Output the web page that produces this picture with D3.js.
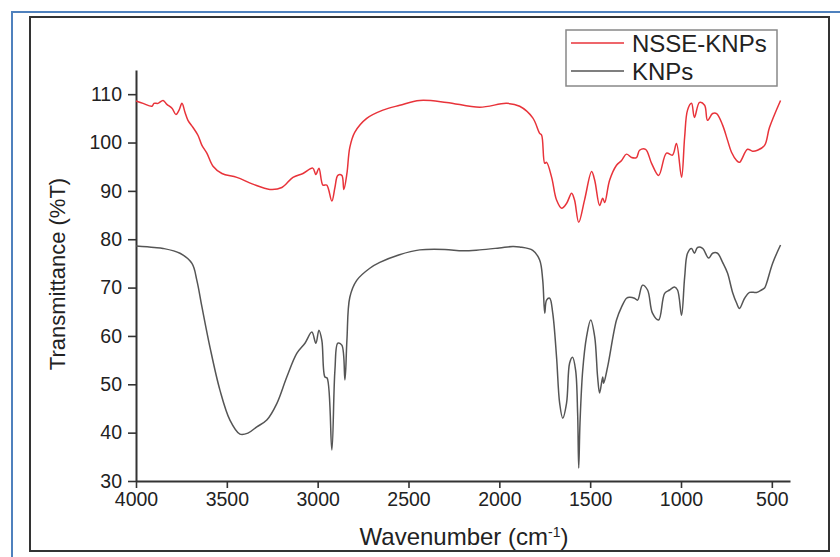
<!DOCTYPE html>
<html>
<head>
<meta charset="utf-8">
<script src="https://cdn.jsdelivr.net/npm/d3@7"></script>
<style>
    body { margin: 0; background: #fff; }
    svg { display: block; font-family: "Liberation Sans", Arial, sans-serif; }
</style>
</head>
<body>
<svg id="chart" width="840" height="557"></svg>
<script>
/* FTIR spectra */
const knpsWn = [4000, 3900, 3851, 3758, 3692, 3665, 3637, 3593, 3538, 3483, 3428, 3384, 3335, 3280, 3225, 3170, 3115, 3070, 3032, 3010, 2993, 2977, 2960, 2948, 2922, 2905, 2889, 2867, 2850, 2839, 2823, 2785, 2713, 2658, 2550, 2438, 2300, 2200, 2108, 2000, 1926, 1888, 1816, 1778, 1761, 1750, 1740, 1723, 1706, 1685, 1668, 1651, 1630, 1613, 1597, 1580, 1569, 1563, 1556, 1541, 1520, 1497, 1475, 1459, 1448, 1431, 1426, 1404, 1355, 1327, 1300, 1283, 1256, 1239, 1212, 1184, 1157, 1123, 1090, 1063, 1036, 1019, 997, 980, 964, 942, 926, 909, 881, 848, 826, 799, 771, 744, 716, 694, 678, 650, 623, 584, 557, 540, 529, 496, 452];
const knpsT = [78.6, 78.3, 78.1, 77.1, 75.0, 71.5, 66, 57.7, 48.8, 42.6, 39.7, 39.9, 41.2, 42.6, 46, 51.5, 56.4, 58.5, 60.8, 58.5, 61.2, 59.1, 51.5, 51.3, 36.4, 52.9, 58.5, 58.1, 50.9, 59.1, 68, 71.5, 74, 75.2, 76.8, 77.8, 77.9, 77.6, 77.8, 78.2, 78.5, 78.4, 77.7, 75.7, 71.5, 64.7, 67.4, 67.8, 64.7, 55.6, 46.1, 43, 46.1, 54.4, 55.6, 52.9, 44, 32.7, 42, 52.9, 59.8, 63.3, 59.8, 51.5, 48.2, 51.5, 50.2, 53.6, 63.3, 66, 67.8, 68, 67.8, 67.4, 70.5, 69.5, 64.7, 63.3, 68.8, 69.5, 70.1, 69.5, 64.3, 72.1, 77.1, 78.1, 77.1, 78.3, 78.1, 76.1, 77.1, 77.1, 75.2, 73, 69, 66.8, 65.7, 67.8, 69, 69, 69.5, 69.9, 70.9, 75, 78.8];

const nsseWn = [4000, 3961, 3912, 3901, 3879, 3851, 3830, 3802, 3780, 3763, 3747, 3730, 3714, 3686, 3659, 3637, 3610, 3576, 3527, 3445, 3357, 3263, 3197, 3136, 3081, 3027, 3010, 2993, 2971, 2950, 2922, 2905, 2889, 2867, 2856, 2839, 2823, 2796, 2730, 2641, 2548, 2438, 2290, 2108, 1960, 1888, 1816, 1778, 1767, 1750, 1740, 1712, 1685, 1657, 1630, 1602, 1586, 1563, 1531, 1492, 1475, 1448, 1431, 1420, 1393, 1355, 1327, 1300, 1272, 1245, 1228, 1195, 1162, 1123, 1080, 1047, 1025, 997, 980, 964, 942, 926, 898, 870, 854, 826, 804, 771, 744, 722, 694, 678, 634, 606, 579, 540, 513, 452];
const nsseT = [108.6, 108.1, 107.5, 108.1, 108.1, 108.7, 107.9, 107.1, 105.8, 106.7, 108.1, 106.2, 104.6, 103.1, 101.5, 99.4, 97.8, 95.1, 93.6, 92.8, 91.4, 90.3, 90.7, 92.8, 93.6, 94.7, 93.4, 94.7, 91.2, 91.2, 87.9, 90.7, 93.2, 93.2, 90.3, 93.6, 99, 102.1, 105, 106.7, 107.7, 108.7, 108.3, 107.3, 108.1, 107.5, 105.1, 101.9, 101.5, 95.7, 95.9, 92.8, 88.1, 86.4, 87.4, 89.5, 88.1, 83.5, 88.1, 94, 92.2, 87, 88.5, 87.6, 92.2, 95.3, 96.3, 97.6, 96.9, 96.9, 98.4, 98.6, 95.7, 93.2, 97.8, 97.4, 99.8, 92.8, 101.1, 106.7, 108.1, 105.2, 108.3, 107.7, 104.6, 106, 106, 103.6, 100.5, 98, 96.3, 95.9, 98.6, 98.2, 98.4, 99.4, 103.1, 108.7];

const xTicks = [4000, 3500, 3000, 2500, 2000, 1500, 1000, 500];
const yTicks = [30, 40, 50, 60, 70, 80, 90, 100, 110];

const seriesNames = ["NSSE-KNPs", "KNPs"];
const seriesColors = ["#e8333a", "#555555"];

const svg = d3.select("#chart");

// outer blue frame and the inner black one
svg.append("rect")
    .attr("x", 12).attr("y", 12)
    .attr("width", 840).attr("height", 560)
    .attr("fill", "#fff")
    .attr("stroke", "#4f81bd").attr("stroke-width", 2);
svg.append("rect")
    .attr("x", 30).attr("y", 17)
    .attr("width", 799).attr("height", 534)
    .attr("fill", "none")
    .attr("stroke", "#333").attr("stroke-width", 2);

const xScale = d3.scaleLinear().domain([4000, 400]).range([136, 790]);
const yScale = d3.scaleLinear().domain([30, 115]).range([481, 70]);

const xAxis = d3.axisBottom(xScale).tickValues(xTicks).tickFormat(d3.format("d"))
    .tickSize(7).tickPadding(4).tickSizeOuter(0);
const yAxis = d3.axisLeft(yScale).tickValues(yTicks).tickFormat(d3.format("d"))
    .tickSize(8).tickPadding(6).tickSizeOuter(0);

const xAxisGroup = svg.append("g").attr("transform", "translate(0,481)").call(xAxis);
const yAxisGroup = svg.append("g").attr("transform", "translate(136,0)").call(yAxis);

[xAxisGroup, yAxisGroup].forEach(g => {
    g.select(".domain").attr("stroke", "#333").attr("stroke-width", 2);
    g.selectAll(".tick line").attr("stroke", "#333").attr("stroke-width", 1.6);
    g.selectAll("text")
        .style("font-family", "Liberation Sans, Arial, sans-serif")
        .style("font-size", "19.5px")
        .attr("fill", "#222");
});

// axis titles
svg.append("text")
    .attr("transform", "translate(65,274) rotate(-90)")
    .attr("text-anchor", "middle")
    .style("font-size", "22px")
    .attr("fill", "#222")
    .text("Transmittance (%T)");

const xTitle = svg.append("text")
    .attr("x", 464).attr("y", 545)
    .attr("text-anchor", "middle")
    .style("font-size", "24px")
    .attr("fill", "#222");
xTitle.append("tspan").text("Wavenumber (cm");
xTitle.append("tspan").attr("dy", -8).style("font-size", "14px").text("-1");
xTitle.append("tspan").attr("dy", 8).text(")");

// spectra
const line = d3.line()
    .x(d => xScale(d[0]))
    .y(d => yScale(d[1]))
    .curve(d3.curveCatmullRom.alpha(0.5));

const series = [
    d3.zip(nsseWn, nsseT),
    d3.zip(knpsWn, knpsT)
];

svg.selectAll(".spectrum")
    .data(series)
    .enter().append("path")
    .attr("class", "spectrum")
    .attr("d", line)
    .attr("fill", "none")
    .attr("stroke", (d, i) => seriesColors[i])
    .attr("stroke-width", 1.5)
    .attr("stroke-linejoin", "round");

// legend
const legend = svg.append("g");
legend.append("rect")
    .attr("x", 566).attr("y", 30)
    .attr("width", 211).attr("height", 56)
    .attr("fill", "#fff")
    .attr("stroke", "#888").attr("stroke-width", 1.5);

seriesNames.forEach((name, i) => {
    const y = 43 + i * 28;
    legend.append("line")
        .attr("x1", 571).attr("x2", 624)
        .attr("y1", y).attr("y2", y)
        .attr("stroke", seriesColors[i]).attr("stroke-width", 1.5);
    legend.append("text")
        .attr("x", 632).attr("y", y + 9)
        .style("font-size", "24px")
        .attr("fill", "#222")
        .text(name);
});
</script>
</body>
</html>
